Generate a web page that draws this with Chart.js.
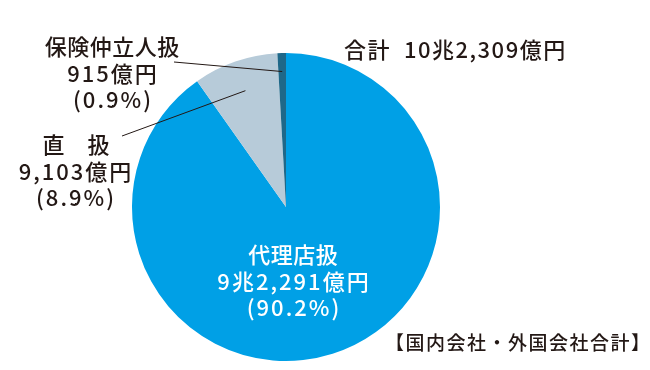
<!DOCTYPE html>
<html>
<head>
<meta charset="utf-8">
<script src="https://cdn.jsdelivr.net/npm/chart.js@4"></script>
<style>
  body { margin: 0; background: #fff; }
  canvas { display: block; }
</style>
</head>
<body>
<canvas id="pieChart" width="650" height="370"></canvas>
<script>
// 億円
const categories = ["代理店扱", "直　扱", "保険仲立人扱"];
const values = [92291, 9103, 915];
const shares = ["90.2%", "8.9%", "0.9%"];
const amountLabels = ["9兆2,291億円", "9,103億円", "915億円"];
const totalLabel = "合計  10兆2,309億円";
const noteLabel = "【国内会社・外国会社合計】";
const colors = ["#00a0e6", "#b7cbd9", "#1f6889"];

const FONT = '"Noto Sans CJK JP", "Noto Sans", sans-serif';

const labelPlugin = {
    id: "labels",
    afterDraw(chart) {
        const ctx = chart.ctx;
        const arcs = chart.getDatasetMeta(0).data;

        function pointOn(i, frac) {
            const a = arcs[i].getProps(["x", "y", "startAngle", "endAngle", "outerRadius"]);
            const mid = (a.startAngle + a.endAngle) / 2;
            return {
                x: a.x + Math.cos(mid) * a.outerRadius * frac,
                y: a.y + Math.sin(mid) * a.outerRadius * frac
            };
        }

        function text(str, x, y, spacing) {
            ctx.letterSpacing = spacing + "px";
            ctx.fillText(str, x + (ctx.textAlign === "center" ? spacing / 2 : 0), y);
        }

        ctx.save();
        ctx.textAlign = "center";
        ctx.textBaseline = "middle";

        // inside label
        ctx.fillStyle = "#fff";
        ctx.font = "500 22px " + FONT;
        text(categories[0], 293, 255, 0.5);
        text(amountLabels[0], 293, 282, 2);
        text("(" + shares[0] + ")", 293, 308, 2);

        // outside labels
        ctx.fillStyle = "#231815";
        text(categories[2], 112, 47, 0.5);
        text(amountLabels[2], 112, 74, 2);
        text("(" + shares[2] + ")", 112, 100, 2);

        text(categories[1], 76, 145, 0.5);
        text(amountLabels[1], 75, 172, 2);
        text("(" + shares[1] + ")", 75, 198, 2);

        ctx.textAlign = "left";
        text(totalLabel, 344, 50, 1.5);
        ctx.font = "500 19px " + FONT;
        text(noteLabel, 385, 343, 1.5);

        // leader lines
        ctx.strokeStyle = "#231815";
        ctx.lineWidth = 1;
        const p2 = pointOn(2, 0.88);
        ctx.beginPath();
        ctx.moveTo(174, 62);
        ctx.lineTo(p2.x, p2.y);
        ctx.stroke();
        const p1 = pointOn(1, 0.8);
        ctx.beginPath();
        ctx.moveTo(122, 136);
        ctx.lineTo(p1.x, p1.y);
        ctx.stroke();
        ctx.restore();
    }
};

new Chart(document.getElementById("pieChart"), {
    type: "pie",
    data: {
        labels: categories,
        datasets: [{
            data: values,
            backgroundColor: colors,
            borderWidth: 0
        }]
    },
    options: {
        responsive: false,
        animation: false,
        layout: { padding: { left: 132, right: 210, top: 53, bottom: 9 } },
        plugins: {
            legend: { display: false },
            tooltip: { enabled: false }
        }
    },
    plugins: [labelPlugin]
});
</script>
</body>
</html>
